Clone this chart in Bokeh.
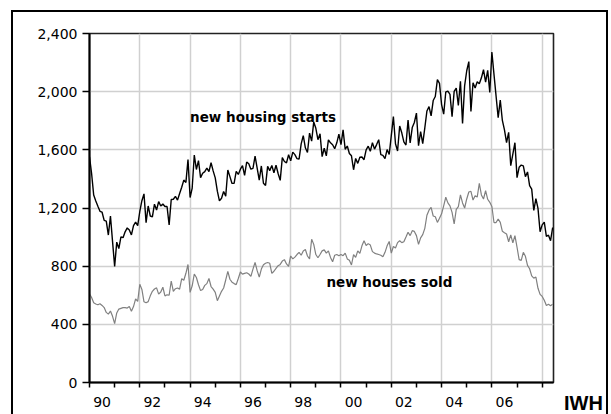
import numpy as np
from bokeh.plotting import figure
from bokeh.layouts import column
from bokeh.models import (Range1d, FixedTicker, NumeralTickFormatter, Label, Div,
                          InlineStyleSheet)
from bokeh.embed import file_html
from bokeh.resources import INLINE

# ---------------- data (monthly, Jan 1990 - Jun 2008, thousands, SAAR) -------------
start_year = 1990

housing_starts = [
    1551, 1437, 1289, 1248, 1212, 1177, 1171, 1115, 1110, 1014, 1145, 969,    # 1990
    798, 965, 921, 1001, 996, 1036, 1063, 1049, 1015, 1079, 1103, 1079,       # 1991
    1176, 1250, 1297, 1099, 1214, 1145, 1139, 1226, 1186, 1244, 1214, 1227,   # 1992
    1210, 1210, 1083, 1258, 1260, 1280, 1254, 1300, 1343, 1392, 1376, 1533,   # 1993
    1272, 1337, 1564, 1465, 1526, 1409, 1439, 1450, 1474, 1450, 1511, 1455,   # 1994
    1407, 1316, 1249, 1267, 1314, 1281, 1461, 1416, 1369, 1369, 1452, 1431,   # 1995
    1467, 1491, 1424, 1516, 1504, 1467, 1472, 1557, 1475, 1392, 1489, 1370,   # 1996
    1355, 1486, 1457, 1492, 1442, 1494, 1437, 1390, 1546, 1520, 1510, 1566,   # 1997
    1525, 1584, 1567, 1540, 1536, 1641, 1698, 1614, 1582, 1715, 1660, 1792,   # 1998
    1748, 1670, 1710, 1553, 1611, 1559, 1669, 1648, 1635, 1608, 1648, 1708,   # 1999
    1636, 1737, 1604, 1626, 1575, 1559, 1463, 1541, 1507, 1549, 1551, 1532,   # 2000
    1600, 1625, 1590, 1649, 1605, 1636, 1670, 1567, 1562, 1540, 1602, 1568,   # 2001
    1698, 1829, 1642, 1592, 1764, 1717, 1655, 1633, 1804, 1648, 1753, 1788,   # 2002
    1853, 1629, 1726, 1643, 1751, 1867, 1897, 1833, 1939, 1967, 2083, 2057,   # 2003
    1911, 1846, 1998, 2003, 1981, 1828, 2002, 2024, 1905, 2072, 1782, 2042,   # 2004
    2144, 2207, 1864, 2061, 2025, 2068, 2054, 2095, 2151, 2065, 2147, 1994,   # 2005
    2273, 2119, 1969, 1821, 1942, 1802, 1737, 1650, 1720, 1491, 1570, 1649,   # 2006
    1409, 1480, 1495, 1490, 1415, 1448, 1354, 1330, 1183, 1264, 1197, 1037,   # 2007
    1084, 1103, 1005, 1013, 975, 1066,                                        # 2008
]

houses_sold = [
    610, 585, 548, 540, 535, 542, 530, 515, 482, 470, 492, 455,               # 1990
    405, 478, 505, 510, 515, 515, 512, 522, 490, 522, 575, 558,               # 1991
    676, 640, 555, 548, 556, 596, 627, 643, 651, 608, 622, 655,               # 1992
    595, 603, 600, 698, 627, 645, 650, 642, 714, 703, 751, 812,               # 1993
    620, 665, 746, 722, 672, 632, 640, 668, 680, 715, 660, 642,               # 1994
    620, 563, 595, 627, 650, 705, 764, 710, 690, 680, 673, 715,               # 1995
    760, 745, 750, 755, 746, 730, 780, 826, 769, 725, 780, 810,               # 1996
    820, 825, 820, 750, 765, 785, 803, 812, 835, 845, 815, 798,               # 1997
    870, 850, 862, 880, 895, 875, 905, 915, 870, 850, 985, 950,               # 1998
    880, 858, 880, 905, 912, 890, 905, 860, 830, 875, 880, 872,               # 1999
    880, 872, 890, 850, 840, 808, 880, 860, 905, 888, 940, 975,               # 2000
    942, 955, 945, 900, 890, 884, 880, 875, 865, 895, 940, 970,               # 2001
    890, 935, 925, 962, 975, 962, 968, 1000, 1033, 1010, 1044, 1039,          # 2002
    1010, 950, 995, 1017, 1060, 1150, 1185, 1205, 1145, 1140, 1101, 1130,     # 2003
    1160, 1215, 1274, 1235, 1215, 1170, 1090, 1190, 1210, 1290, 1235, 1200,   # 2004
    1262, 1310, 1315, 1255, 1285, 1275, 1370, 1290, 1262, 1320, 1260, 1239,   # 2005
    1210, 1100, 1100, 1124, 1101, 1040, 1030, 1021, 968, 1015, 960, 1010,     # 2006
    930, 845, 840, 895, 868, 805, 782, 733, 718, 725, 648, 606,               # 2007
    592, 565, 530, 538, 528, 539,                                             # 2008
]

grid_years = [1990, 1992, 1994, 1996, 1998, 2000, 2002, 2004, 2006, 2008]
tick_years = [1990, 1991, 1992, 1993, 1994, 1995, 1996, 1997, 1998, 1999,
              2000, 2001, 2002, 2003, 2004, 2005, 2006, 2007, 2008]
label_years = [1990, 1992, 1994, 1996, 1998, 2000, 2002, 2004, 2006]
x_tick_labels = ["90", "92", "94", "96", "98", "00", "02", "04", "06"]
y_ticks = [0, 400, 800, 1200, 1600, 2000, 2400]

series_labels = ["new housing starts", "new houses sold"]
brand = "IWH"

# ---------------- plot ----------------
t = start_year + np.arange(len(housing_starts)) / 12.0

TICK_FONT = "DejaVu Sans"

frame_css = InlineStyleSheet(css="""
:host::after {
  content: "";
  position: absolute;
  left: 11px;
  top: 10px;
  width: 597px;
  height: 404px;
  border: 2.5px solid black;
  border-bottom: none;
  box-sizing: border-box;
  pointer-events: none;
  z-index: 100;
}
""")

p = figure(width=611, height=414, output_backend="svg", toolbar_location=None,
           x_range=Range1d(1990, 2008.45), y_range=Range1d(0, 2400),
           min_border_left=89, min_border_right=58, min_border_top=33,
           min_border_bottom=32)
p.stylesheets = [frame_css]
p.background_fill_color = "white"
p.border_fill_color = "white"
p.outline_line_color = "#222222"
p.outline_line_width = 1.6

# x axis: labels centred within the labelled year, tick marks at every year
lab_ticks = [y + 0.5 for y in label_years]
xa = p.xaxis[0]
xa.ticker = FixedTicker(ticks=lab_ticks, minor_ticks=tick_years)
xa.major_label_overrides = {k: s for k, s in zip(lab_ticks, x_tick_labels)}
xa.major_tick_in = 0
xa.major_tick_out = 0
xa.major_tick_line_color = None
xa.minor_tick_in = 0
xa.minor_tick_out = 5
xa.minor_tick_line_color = "black"
xa.minor_tick_line_width = 1.5
xa.axis_line_width = 2
xa.axis_line_color = "black"
xa.major_label_standoff = 9
xa.major_label_text_font = TICK_FONT
xa.major_label_text_font_size = "14px"
xa.major_label_text_color = "black"

ya = p.yaxis[0]
ya.ticker = FixedTicker(ticks=y_ticks, minor_ticks=[])
ya.formatter = NumeralTickFormatter(format="0,0")
ya.major_tick_in = 0
ya.major_tick_out = 7
ya.minor_tick_in = 0
ya.minor_tick_out = 0
ya.axis_line_width = 2
ya.axis_line_color = "black"
ya.major_tick_line_color = "black"
ya.major_tick_line_width = 1.5
ya.major_label_standoff = 5
ya.major_label_text_font = TICK_FONT
ya.major_label_text_font_size = "14px"
ya.major_label_text_color = "black"

p.xgrid.ticker = FixedTicker(ticks=grid_years, minor_ticks=[])
p.ygrid.ticker = FixedTicker(ticks=y_ticks, minor_ticks=[])
for g in (p.xgrid[0], p.ygrid[0]):
    g.grid_line_color = "#d0d0d0"
    g.grid_line_width = 1.5

p.line(t, houses_sold, line_color="#808080", line_width=1.2)
p.line(t, housing_starts, line_color="black", line_width=1.4)

p.add_layout(Label(x=1994.0, y=1824, text=series_labels[0], text_font="DejaVu Sans",
                   text_font_style="bold", text_font_size="13.5px",
                   text_color="black", text_baseline="alphabetic"))
p.add_layout(Label(x=1999.42, y=688, text=series_labels[1], text_font="DejaVu Sans",
                   text_font_style="bold", text_font_size="13.5px",
                   text_color="black", text_baseline="alphabetic"))

# brand mark in the lower-right corner, overlapping the figure's bottom margin
iwh = Div(text=brand, width=44, height=16, margin=(-19, 0, 0, 564),
          styles={"position": "relative", "z-index": "10",
                  "font-family": "Liberation Sans, Arial, sans-serif",
                  "font-weight": "bold", "font-size": "20px",
                  "line-height": "16px", "color": "black",
                  "white-space": "nowrap", "overflow": "visible"})

layout = column(p, iwh, spacing=0)

open("out.html", "w").write(file_html(layout, INLINE))
